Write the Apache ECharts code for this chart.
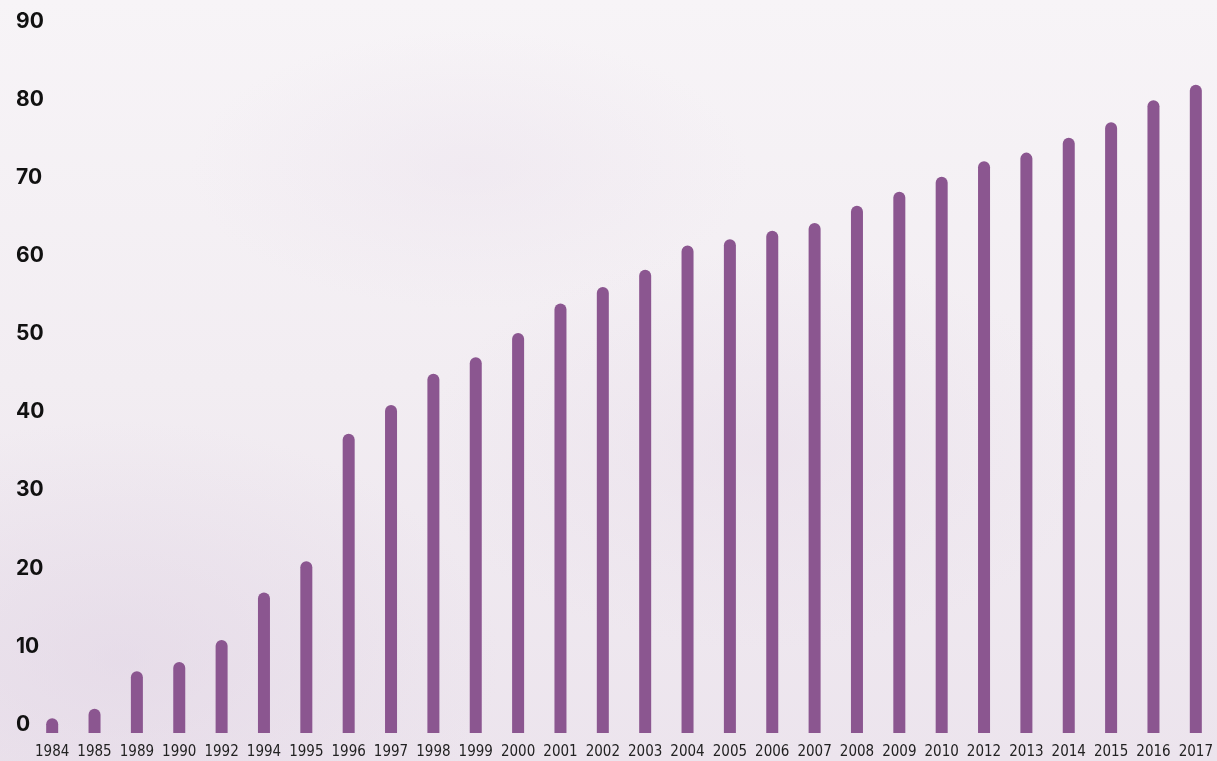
<!DOCTYPE html>
<html>
<head>
<meta charset="utf-8">
<script src="https://cdn.jsdelivr.net/npm/echarts@6/dist/echarts.min.js"></script>
<style>
  html, body { margin: 0; padding: 0; }
  #main {
    width: 1217px; height: 761px;
    background:
      radial-gradient(ellipse 380px 240px at 120px 660px, rgba(222,208,226,0.45), rgba(222,208,226,0) 100%),
      radial-gradient(ellipse 340px 200px at 760px 450px, rgba(228,214,230,0.35), rgba(228,214,230,0) 100%),
      radial-gradient(ellipse 280px 140px at 470px 170px, rgba(234,224,236,0.4), rgba(234,224,236,0) 100%),
      linear-gradient(180deg, #f7f4f7 0%, #f2edf2 50%, #ece4ed 100%);
  }
</style>
</head>
<body>
<div id="main"></div>
<script>
// years shown along the bottom
var years = ['1984', '1985', '1989', '1990', '1992', '1994', '1995', '1996', '1997', '1998',
  '1999', '2000', '2001', '2002', '2003', '2004', '2005', '2006', '2007', '2008',
  '2009', '2010', '2012', '2013', '2014', '2015', '2016', '2017'];

// bar heights (labels sit just above their gridline)
var values = [1.9, 3.1, 7.9, 9.1, 11.9, 18, 22, 38.3, 42, 46,
  48.1, 51.2, 55, 57.1, 59.3, 62.4, 63.2, 64.3, 65.3, 67.5,
  69.3, 71.2, 73.2, 74.3, 76.2, 78.2, 81, 83];

// y labels
var yTicks = [0, 10, 20, 30, 40, 50, 60, 70, 80, 90];

var myChart = echarts.init(document.getElementById('main'));

var option = {
  backgroundColor: 'transparent',
  animation: false,
  grid: { left: 31, top: 21, bottom: 28, width: 1195, containLabel: false },
  xAxis: {
    type: 'category',
    data: years,
    axisLine: { show: false },
    axisTick: { show: false },
    axisLabel: {
      interval: 0,
      margin: 12,
      color: '#222',
      fontFamily: "'DejaVu Sans Condensed', 'Liberation Sans Narrow', Roboto, sans-serif",
      fontSize: 15
    }
  },
  yAxis: {
    type: 'value',
    min: 0,
    max: 91.15,
    splitLine: { show: false },
    axisLine: { show: false },
    axisTick: { show: false },
    axisLabel: {
      customValues: yTicks,
      align: 'left',
      verticalAlign: 'bottom',
      lineHeight: 17,
      margin: 15,
      color: '#111',
      fontFamily: 'Inter',
      fontWeight: 'bold',
      fontSize: 21
    }
  },
  series: [{
    type: 'bar',
    data: values,
    barWidth: 12,
    itemStyle: {
      color: '#8b5690',
      borderRadius: [6, 6, 0, 0]
    }
  }]
};

myChart.setOption(option);
</script>
</body>
</html>
